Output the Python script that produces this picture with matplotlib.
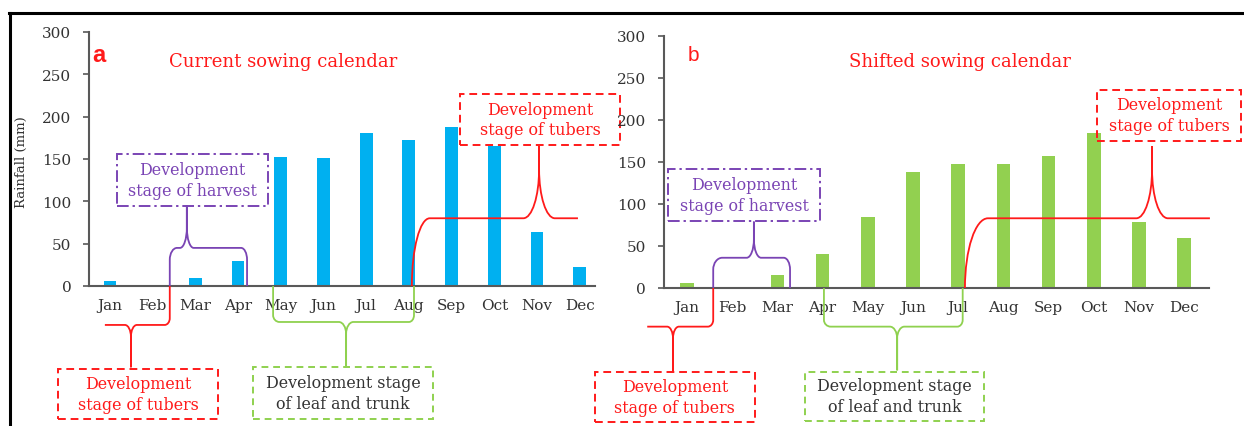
import matplotlib.pyplot as plt
import numpy as np
from matplotlib.path import Path
from matplotlib.patches import PathPatch, Rectangle
from matplotlib.lines import Line2D

months = ['Jan', 'Feb', 'Mar', 'Apr', 'May', 'Jun', 'Jul', 'Aug', 'Sep', 'Oct', 'Nov', 'Dec']
rain_current = [6, 0, 9, 30, 152, 151, 181, 172, 188, 165, 64, 22]
rain_shifted = [6, 1, 16, 40, 84, 138, 148, 148, 157, 184, 79, 60]
yticks = [0, 50, 100, 150, 200, 250, 300]

RED = '#ff1a1a'
PURPLE = '#7a44b4'
GREEN = '#8fd14f'
BLUE = '#00b0f0'
BARGREEN = '#92d050'
AXC = '#595959'
SERIF = 'DejaVu Serif'

W, H = 1244, 427
fig = plt.figure(figsize=(W / 100, H / 100), dpi=100)


def px_axes(x0, x1, y_top, y_bot):
    return fig.add_axes([x0 / W, 1 - y_bot / H, (x1 - x0) / W, (y_bot - y_top) / H])


def style(ax, xlim):
    ax.set_xlim(*xlim)
    ax.set_ylim(0, 300)
    ax.set_yticks(yticks)
    ax.set_xticks(range(12))
    ax.set_xticklabels(months, family=SERIF, fontsize=11, color='#333333')
    ax.set_yticklabels([str(t) for t in yticks], family=SERIF, fontsize=11, color='#333333')
    for s in ['top', 'right']:
        ax.spines[s].set_visible(False)
    for s in ['left', 'bottom']:
        ax.spines[s].set_color(AXC)
        ax.spines[s].set_linewidth(1.5)
    ax.tick_params(axis='y', direction='out', length=4.5, width=1.2, color=AXC, pad=8)
    ax.tick_params(axis='x', length=0, pad=9)
    ax.patch.set_alpha(0)


def brace(ax, x0, x1, level, xc, tip, color, foot0=True, foot1=True,
          rx0=0.15, ry0=12, rx1=0.15, ry1=12, cx=0.15, cy=15, base=0):
    k = 0.5523
    s = np.sign(level - base)
    t = np.sign(tip - level)
    verts, codes = [], []
    if foot0:
        verts += [(x0, base), (x0, level - s * ry0),
                  (x0, level - s * ry0 * (1 - k)), (x0 + rx0 * (1 - k), level), (x0 + rx0, level)]
        codes += [Path.MOVETO, Path.LINETO, Path.CURVE4, Path.CURVE4, Path.CURVE4]
    else:
        verts += [(x0, level)]
        codes += [Path.MOVETO]
    verts += [(xc - cx, level),
              (xc - cx * (1 - k), level), (xc, level + t * cy * (1 - k)), (xc, level + t * cy),
              (xc, tip), (xc, level + t * cy),
              (xc, level + t * cy * (1 - k)), (xc + cx * (1 - k), level), (xc + cx, level)]
    codes += [Path.LINETO, Path.CURVE4, Path.CURVE4, Path.CURVE4,
              Path.LINETO, Path.LINETO, Path.CURVE4, Path.CURVE4, Path.CURVE4]
    if foot1:
        verts += [(x1 - rx1, level),
                  (x1 - rx1 * (1 - k), level), (x1, level - s * ry1 * (1 - k)), (x1, level - s * ry1),
                  (x1, base)]
        codes += [Path.LINETO, Path.CURVE4, Path.CURVE4, Path.CURVE4, Path.LINETO]
    else:
        verts += [(x1, level)]
        codes += [Path.LINETO]
    ax.add_patch(PathPatch(Path(verts, codes), fill=False, ec=color, lw=1.3,
                           clip_on=False, zorder=5))


def box(ax, x0, x1, v0, v1, text, color, tcolor, ls, fs=11.4):
    ax.add_patch(Rectangle((x0, v0), x1 - x0, v1 - v0, fill=False, ec=color, lw=1.4,
                           ls=ls, clip_on=False, zorder=5))
    ax.text((x0 + x1) / 2, (v0 + v1) / 2, text, ha='center', va='center', color=tcolor,
            family=SERIF, fontsize=fs, linespacing=1.3, clip_on=False, zorder=6)


x = np.arange(12)

# ---- panel a
ax_a = px_axes(88.65, 594.6, 33, 287)
ax_a.bar(x, rain_current, width=0.3, color=BLUE, zorder=2)
style(ax_a, (-0.5, 11.35))
ax_a.set_ylabel('Rainfall (mm)', family=SERIF, fontsize=9.5, color='#333333')
ax_a.yaxis.set_label_coords(-0.12, 0.49)
ax_a.text(-0.42, 274, 'a', color=RED, family='Liberation Sans', weight='bold',
          fontsize=17, va='center', ha='left')
ax_a.text(4.06, 266, 'Current sowing calendar', color=RED, family=SERIF,
          fontsize=13, ha='center', va='center')

box(ax_a, 0.16, 3.70, 94.5, 155.8, 'Development\nstage of harvest', PURPLE, PURPLE, (0, (6, 2, 1.2, 2)))
brace(ax_a, 1.4, 3.21, 45, 1.8, 95, PURPLE, rx0=0.17, ry0=14, rx1=0.14, ry1=14, cx=0.16, cy=24)

brace(ax_a, -0.12, 1.4, -46, 0.49, -96, RED, foot0=False, rx1=0.12, ry1=8, cx=0.14, cy=14)
box(ax_a, -1.22, 2.53, -157, -98, 'Development\nstage of tubers', RED, RED, (0, (4, 2.5)))

brace(ax_a, 3.82, 7.12, -42.5, 5.53, -94.5, GREEN, rx0=0.15, ry0=8, rx1=0.12, ry1=8, cx=0.17, cy=14)
box(ax_a, 3.35, 7.56, -157, -95.6, 'Development stage\nof leaf and trunk', GREEN, '#333333', (0, (3.5, 2.5)))

brace(ax_a, 7.07, 10.96, 80, 10.05, 165, RED, foot1=False, rx0=0.42, ry0=80, cx=0.37, cy=58)
box(ax_a, 8.2, 11.94, 166.5, 226.7, 'Development\nstage of tubers', RED, RED, (0, (4, 2.5)))

# ---- panel b
ax_b = px_axes(663.5, 1209, 37, 289)
ax_b.bar(x, rain_shifted, width=0.3, color=BARGREEN, zorder=2)
style(ax_b, (-0.52, 11.55))
ax_b.text(0.02, 278, 'b', color=RED, family='Liberation Sans',
          fontsize=15, va='center', ha='left')
ax_b.text(6.04, 270, 'Shifted sowing calendar', color=RED, family=SERIF,
          fontsize=13, ha='center', va='center')

box(ax_b, -0.42, 2.94, 79.8, 141.7, 'Development\nstage of harvest', PURPLE, PURPLE, (0, (6, 2, 1.2, 2)))
brace(ax_b, 0.58, 2.28, 36, 1.48, 79, PURPLE, rx0=0.2, ry0=14, rx1=0.14, ry1=14, cx=0.16, cy=22)

brace(ax_b, -0.88, 0.58, -46, -0.31, -99, RED, foot0=False, rx1=0.12, ry1=8, cx=0.13, cy=14)
box(ax_b, -2.04, 1.50, -159.5, -100, 'Development\nstage of tubers', RED, RED, (0, (4, 2.5)))

brace(ax_b, 3.03, 6.1, -46, 4.65, -98, GREEN, rx0=0.15, ry0=8, rx1=0.12, ry1=8, cx=0.16, cy=14)
box(ax_b, 2.61, 6.57, -158, -100, 'Development stage\nof leaf and trunk', GREEN, '#333333', (0, (3.5, 2.5)))

brace(ax_b, 6.15, 11.57, 83, 10.29, 169, RED, foot1=False, rx0=0.51, ry0=83, cx=0.35, cy=58)
box(ax_b, 9.07, 12.26, 175, 236, 'Development\nstage of tubers', RED, RED, (0, (4, 2.5)))

# frame of the screenshot
fig.add_artist(Line2D([9 / W, 1], [1 - 14 / H, 1 - 14 / H], color='black', lw=2.2))
fig.add_artist(Line2D([10 / W, 10 / W], [0, 1 - 14 / H], color='black', lw=2.2))

fig.savefig('out.png', dpi=100)
